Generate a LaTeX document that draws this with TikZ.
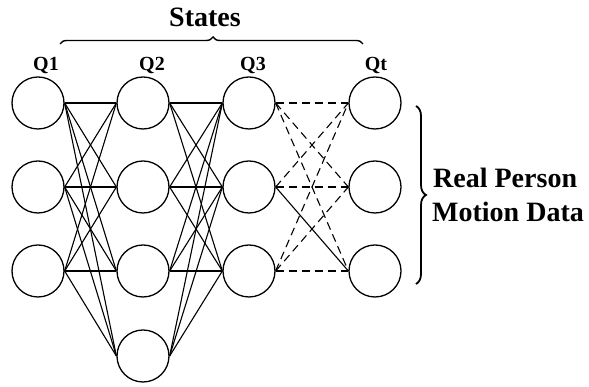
\documentclass[tikz,border=0pt]{standalone}
\usepackage{fontspec}
\setmainfont{Liberation Serif}
\usetikzlibrary{decorations.pathreplacing}
\begin{document}
\begin{tikzpicture}[x=1pt,y=1pt,
  state/.style={circle,draw,line width=1.3pt,minimum size=52pt,inner sep=0pt},
  link/.style={line width=1.1pt},
  dlink/.style={line width=1.1pt,dash pattern=on 8pt off 5pt},
  qlabel/.style={font=\bfseries\fontsize{20}{24}\selectfont,anchor=base},
  biglabel/.style={font=\bfseries\fontsize{28}{34}\selectfont,inner sep=0pt}]
\useasboundingbox (0,0) rectangle (589,387);
% columns: x = 38, 143, 249, 375 ; rows (px from top): 103, 187, 271, 356
\foreach \r/\y in {1/103,2/187,3/271}{
  \node[state] (a\r) at (38,387-\y) {};
  \node[state] (c\r) at (249,387-\y) {};
  \node[state] (d\r) at (375,387-\y) {};
}
\foreach \r/\y in {1/103,2/187,3/271,4/356}{
  \node[state] (b\r) at (143,387-\y) {};
}
% Q1 -> Q2
\foreach \i in {1,2,3}{\foreach \j in {1,2,3,4}{\draw[link] (a\i.east) -- (b\j.west);}}
% Q2 -> Q3
\foreach \i in {1,2,3,4}{\foreach \j in {1,2,3}{\draw[link] (b\i.east) -- (c\j.west);}}
% Q3 -> Qt
\foreach \i/\j in {1/1,1/2,1/3,2/1,2/2,3/1,3/2,3/3}{\draw[dlink] (c\i.east) -- (d\j.west);}
\draw[link] (c2.east) -- (d3.west);
% labels
\node[qlabel] (l1) at (46,387-71) {Q1};
\node[qlabel] (l2) at (152,387-71) {Q2};
\node[qlabel] (l3) at (253,387-71) {Q3};
\node[qlabel] (l4) at (376,387-71) {Qt};
\node[biglabel,anchor=base] (st) at (205,387-27) {States};
\coordinate (bl) at (60,387-44);
\coordinate (br) at (363,387-44);
\draw[line width=1.4pt,decorate,decoration={brace,amplitude=7pt,aspect=0.505}] (bl) -- (br);
\coordinate (rt) at (416,387-106);
\coordinate (rb) at (416,387-284);
\draw[line width=1.8pt,decorate,decoration={brace,amplitude=10pt}] (rt) -- (rb);
\node[biglabel,anchor=base west] (rp) at (433,387-188) {Real Person};
\node[biglabel,anchor=base west] (md) at (432,387-222) {Motion Data};
\end{tikzpicture}
\end{document}
